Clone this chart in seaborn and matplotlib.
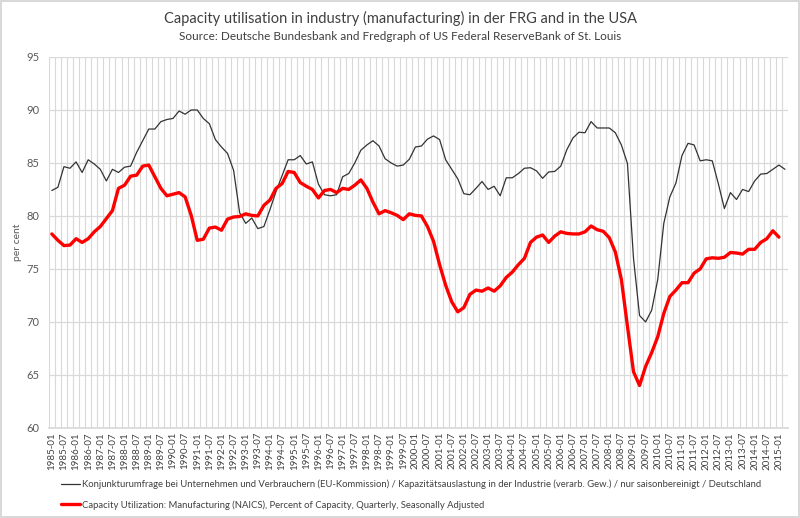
"""
Capacity utilisation in manufacturing: Germany (EU survey) vs USA (Fed, NAICS).
Quarterly values read off the original chart.
"""

import numpy as np
import pandas as pd
import matplotlib
matplotlib.use("Agg")
import matplotlib.pyplot as plt
from matplotlib.lines import Line2D
import seaborn as sns

# quarterly periods 1985-01 .. 2015-04
YEARS = list(range(1985, 2016))
MONTHS = ["01", "04", "07", "10"]
PERIODS = [f"{y}-{m}" for y in YEARS for m in MONTHS][:122]

# Germany: Kapazitaetsauslastung, EU-Kommission survey (per cent)
GERMANY = [
    82.4, 82.7, 84.65, 84.5, 85.1, 84.1, 85.3, 84.9, 84.4, 83.3,
    84.4, 84.1, 84.6, 84.7, 86.0, 87.1, 88.2, 88.2, 88.9, 89.1,
    89.2, 89.9, 89.6, 90.0, 90.0, 89.2, 88.7, 87.2, 86.5, 85.9,
    84.3, 80.3, 79.3, 79.8, 78.8, 79.0, 80.6, 82.3, 83.8, 85.3,
    85.3, 85.7, 84.9, 85.1, 83.0, 82.0, 81.9, 82.0, 83.7, 84.0,
    85.0, 86.2, 86.7, 87.1, 86.6, 85.4, 85.0, 84.7, 84.8, 85.35,
    86.5, 86.6, 87.25, 87.55, 87.2, 85.3, 84.4, 83.5, 82.1, 82.0,
    82.6, 83.25, 82.5, 82.8, 81.9, 83.6, 83.6, 84.0, 84.5, 84.55,
    84.25, 83.55, 84.15, 84.2, 84.7, 86.25, 87.35, 87.9, 87.85, 88.9,
    88.3, 88.3, 88.3, 87.85, 86.7, 84.95, 76.0, 70.6, 70.0, 71.1,
    74.0, 79.3, 81.8, 83.1, 85.7, 86.85, 86.7, 85.2, 85.3, 85.2,
    83.05, 80.7, 82.2, 81.55, 82.5, 82.3, 83.3, 83.95, 84.0, 84.4,
    84.8, 84.4,
]

# USA: Capacity Utilization, Manufacturing (NAICS), quarterly, s.a.
USA = [
    78.3, 77.7, 77.2, 77.25, 77.85, 77.5, 77.85, 78.5, 79.0, 79.75,
    80.5, 82.6, 82.9, 83.75, 83.85, 84.7, 84.8, 83.7, 82.6, 81.9,
    82.05, 82.2, 81.8, 80.05, 77.7, 77.8, 78.85, 78.95, 78.65, 79.7,
    79.9, 79.95, 80.2, 80.05, 80.0, 81.0, 81.5, 82.6, 83.05, 84.2,
    84.1, 83.15, 82.8, 82.5, 81.7, 82.4, 82.5, 82.2, 82.6, 82.5,
    82.9, 83.4, 82.6, 81.3, 80.2, 80.5, 80.3, 80.05, 79.65, 80.2,
    80.05, 80.0, 79.0, 77.6, 75.4, 73.45, 71.9, 70.95, 71.35, 72.6,
    73.0, 72.9, 73.2, 72.9, 73.4, 74.2, 74.7, 75.4, 76.0, 77.5,
    78.0, 78.2, 77.5, 78.1, 78.5, 78.35, 78.3, 78.3, 78.5, 79.05,
    78.7, 78.55, 77.95, 76.6, 74.0, 69.6, 65.3, 64.0, 65.8, 67.1,
    68.6, 70.8, 72.4, 73.0, 73.7, 73.7, 74.6, 75.0, 75.95, 76.05,
    76.0, 76.1, 76.55, 76.5, 76.4, 76.85, 76.85, 77.5, 77.85, 78.6,
    78.0,
]

LABEL_DE = ("Konjunkturumfrage bei Unternehmen und Verbrauchern (EU-Kommission) / "
            "Kapazitätsauslastung in der Industrie (verarb. Gew.) / nur saisonbereinigt / Deutschland")
LABEL_US = "Capacity Utilization: Manufacturing (NAICS), Percent of Capacity, Quarterly, Seasonally Adjusted"
TITLE = "Capacity utilisation in industry (manufacturing) in der FRG and in the USA"
SUBTITLE = "Source: Deutsche Bundesbank and Fredgraph of US Federal ReserveBank of St. Louis"

df = pd.DataFrame({
    "idx": np.arange(len(PERIODS)),
    "de": GERMANY,
    "us": USA + [np.nan] * (len(PERIODS) - len(USA)),
})

sns.set_theme(style="white")
plt.rcParams["font.family"] = ["Lato", "DejaVu Sans"]

GRID = "#d9d9d9"
TXT = "#595959"

fig = plt.figure(figsize=(8, 5.18), dpi=100)
fig.patch.set_edgecolor(GRID)
fig.patch.set_linewidth(1.5)
ax = fig.add_axes([0.061, 0.174, 0.924, 0.716])

sns.lineplot(data=df, x="idx", y="de", color="#333333", lw=0.9, ax=ax, legend=False)
sns.lineplot(data=df, x="idx", y="us", color="#ff0000", lw=2.4, ax=ax, legend=False)

ax.set_xlim(-0.5, len(PERIODS) - 0.5)
ax.set_ylim(60, 95)
ax.set_yticks(range(60, 96, 5))
ax.set_xticks(df["idx"][::2])
ax.set_xticklabels(PERIODS[::2], rotation=90, fontsize=7, color="#404040")
ax.set_xticks(np.arange(-0.5, len(PERIODS), 1), minor=True)
ax.tick_params(axis="y", labelsize=8, labelcolor=TXT, pad=7)
ax.tick_params(axis="x", pad=3)
ax.tick_params(which="both", length=0)

ax.grid(which="minor", axis="x", color=GRID, lw=0.8)
ax.grid(which="major", axis="y", color=GRID, lw=0.9)
ax.grid(which="major", axis="x", visible=False)
for side in ["left", "right", "top"]:
    ax.spines[side].set_visible(False)
ax.spines["bottom"].set_color(GRID)

ax.set_xlabel("")
ax.set_ylabel("per cent", fontsize=7.5, color=TXT, labelpad=3)

fig.text(0.5, 1 - 18 / 518, TITLE, ha="center", va="center", fontsize=10.5, color="#404040")
fig.text(0.5, 1 - 36 / 518, SUBTITLE, ha="center", va="center", fontsize=8.5, color="#404040")

handles = [Line2D([], [], color="#333333", lw=0.9), Line2D([], [], color="#ff0000", lw=2.4)]
leg = fig.legend(handles, [LABEL_DE, LABEL_US], loc="upper left",
                 bbox_to_anchor=(0.072, 1 - 476 / 518), frameon=False, fontsize=6.8,
                 handlelength=2.0, handletextpad=0.2, labelspacing=1.15, borderaxespad=0)
for t in leg.get_texts():
    t.set_color("#404040")

fig.savefig("out.png", dpi=100, edgecolor=fig.get_edgecolor())
